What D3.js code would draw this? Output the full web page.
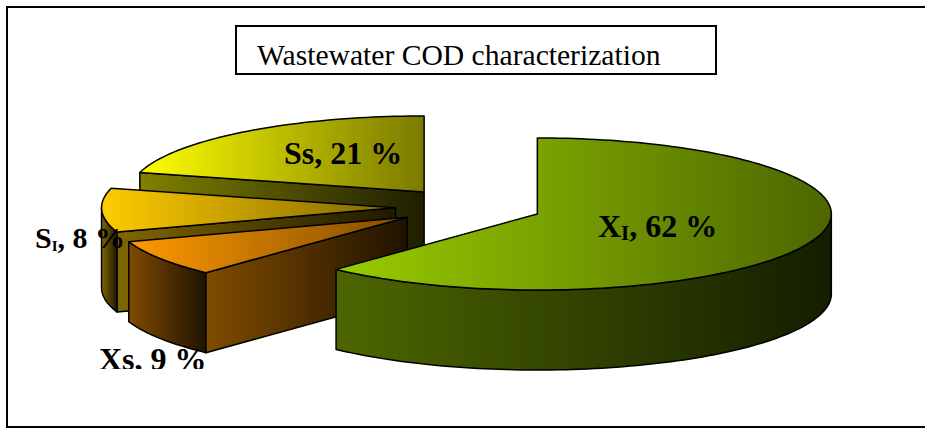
<!DOCTYPE html>
<html>
<head>
<meta charset="utf-8">
<script src="https://cdn.jsdelivr.net/npm/d3@7"></script>
<style>
  html, body { margin: 0; padding: 0; background: #fff; }
  svg { display: block; }
  text { font-family: "Liberation Serif", serif; fill: #000; }
</style>
</head>
<body>
<div id="chart"></div>
<script>
const titleText = "Wastewater COD characterization";
const categories = ["XI", "Xs", "SI", "Ss"];
// printed percentages
const percents = [62, 9, 8, 21];
// share of the circle each wedge really covers in the picture
const wedgeShares = [62, 7.8, 9.3, 20.9];
const topColors = [["#99cc00", "#4d6600"], ["#ff9900", "#804c00"], ["#ffcc00", "#806600"], ["#ffff00", "#7a7a00"]];
const sideColors = [["#4d6600", "#141e00"], ["#804c00", "#1f1200"], ["#806600", "#1f1900"], ["#808000", "#1f1f00"]];

const width = 925;
const height = 428;
const rx = 294, ry = 76, depth = 80, explode = 0.25;
const cx = 469, cy = 207;

const svg = d3.select("#chart").append("svg")
  .attr("width", width)
  .attr("height", height);

// frame has no right side, it runs off the page
svg.append("path")
  .attr("d", d3.line()([[width, 7], [7, 7], [7, 427], [width, 427]]))
  .attr("fill", "none").attr("stroke", "#000").attr("stroke-width", 2);

svg.append("rect")
  .attr("x", 236).attr("y", 26)
  .attr("width", 480).attr("height", 48)
  .attr("fill", "#fff").attr("stroke", "#000").attr("stroke-width", 2);

svg.append("text")
  .attr("x", 257).attr("y", 65)
  .style("font-size", "29.6px")
  .text(titleText);

// unit pie coordinates -> page
const x = d3.scaleLinear().domain([-1, 1]).range([cx - rx, cx + rx]);
const y = d3.scaleLinear().domain([-1, 1]).range([cy - ry, cy + ry]);

const slices = d3.pie().sort(null).value(d => d)(wedgeShares)
  .map((s, i) => ({ ...s, i, mid: (s.startAngle + s.endAngle) / 2 }));

const line = d3.line();
const defs = svg.append("defs");

function gradient(id, colors) {
  const g = defs.append("linearGradient").attr("id", id);
  g.append("stop").attr("offset", "0%").attr("stop-color", colors[0]);
  g.append("stop").attr("offset", "100%").attr("stop-color", colors[1]);
  return `url(#${id})`;
}

// point on the slice's ellipse, r = 0 gives the apex
function pt(s, a, r = 1, dz = 0) {
  return [
    x(explode * Math.sin(s.mid) + r * Math.sin(a)),
    y(-explode * Math.cos(s.mid) - r * Math.cos(a)) + dz
  ];
}

function arcAngles(a0, a1) {
  const n = Math.max(2, Math.ceil((a1 - a0) * 40));
  return d3.range(n + 1).map(k => a0 + (a1 - a0) * k / n);
}

const pie = svg.append("g").attr("stroke", "#000").attr("stroke-width", 1.5).attr("stroke-linejoin", "round");

// back to front: Ss, SI, Xs, XI
[3, 2, 1, 0].forEach(i => {
  const s = slices[i];
  const g = pie.append("g");

  // rim, only the part that faces the viewer
  const a0 = Math.max(s.startAngle, Math.PI / 2);
  const a1 = Math.min(s.endAngle, 3 * Math.PI / 2);
  if (a1 > a0) {
    const angles = arcAngles(a0, a1);
    const rim = angles.map(a => pt(s, a)).concat(angles.slice().reverse().map(a => pt(s, a, 1, depth)));
    g.append("path")
      .attr("d", line(rim) + "Z")
      .attr("fill", gradient(`rim${i}`, sideColors[i]));
  }

  // cut face at the start angle (XI's is hidden behind its own top)
  if (i > 0) {
    const cut = [pt(s, s.startAngle), pt(s, 0, 0), pt(s, 0, 0, depth), pt(s, s.startAngle, 1, depth)];
    g.append("path")
      .attr("d", line(cut) + "Z")
      .attr("fill", gradient(`cut${i}`, sideColors[i]));
  }

  // top face
  const top = [pt(s, 0, 0)].concat(arcAngles(s.startAngle, s.endAngle).map(a => pt(s, a)));
  g.append("path")
    .attr("d", line(top) + "Z")
    .attr("fill", gradient(`top${i}`, topColors[i]));
});

svg.append("clipPath").attr("id", "plot-clip")
  .append("rect").attr("x", 0).attr("y", 0).attr("width", width).attr("height", 369);

const labelPos = [[598, 237], [99, 370], [35, 248], [284, 164]];
const labelSize = [32, 32, 30, 32];
const subSize = [21, 0, 15, 0];
const labels = svg.append("g").attr("clip-path", "url(#plot-clip)")
  .style("font-weight", "bold");

categories.forEach((c, i) => {
  const t = labels.append("text")
    .attr("x", labelPos[i][0]).attr("y", labelPos[i][1])
    .style("font-size", labelSize[i] + "px");
  t.append("tspan").text(c[0]);
  if (c[1] === "I") {
    t.append("tspan").attr("dy", 3).style("font-size", subSize[i] + "px").text(c[1]);
    t.append("tspan").attr("dy", -3).text(`, ${percents[i]} %`);
  } else {
    t.append("tspan").text(`${c[1]}, ${percents[i]} %`);
  }
});
</script>
</body>
</html>
